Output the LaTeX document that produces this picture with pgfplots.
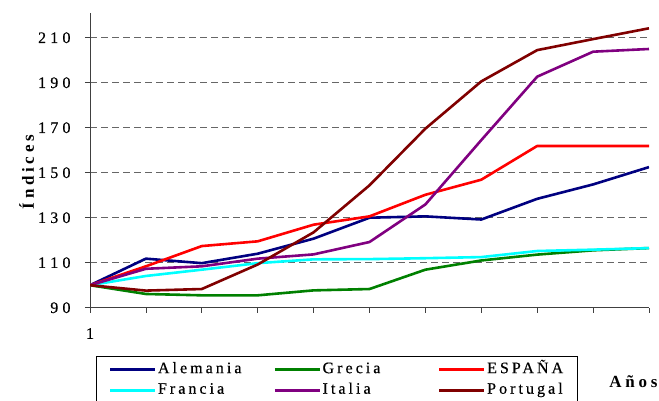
\documentclass[border=0pt]{standalone}
\usepackage{fontspec}
\setmainfont{Liberation Serif}
\usepackage{pgfplots}
\pgfplotsset{compat=1.18}
\newfontfamily\tickfam[FakeBold=0.4]{Liberation Serif}
\newfontfamily\spacedleg[LetterSpace=19,FakeBold=0.4]{Liberation Serif}
\newfontfamily\spacedlab[LetterSpace=22]{Liberation Serif}
\newcommand\tickfont{\fontsize{16bp}{19bp}\selectfont\tickfam}
\newcommand\ks{\hspace{4.2bp}}
\newcommand\tl[1]{\mbox{\tickfont #1}}
\newcommand\legfont{\fontsize{16bp}{19bp}\selectfont\spacedleg}
\newcommand\labfont{\fontsize{17bp}{20bp}\selectfont\spacedlab\bfseries}
\definecolor{cNavy}{HTML}{000080}
\definecolor{cGreen}{HTML}{008000}
\definecolor{cRed}{HTML}{FF0000}
\definecolor{cCyan}{HTML}{00FFFF}
\definecolor{cPurple}{HTML}{800080}
\definecolor{cMaroon}{HTML}{800000}
\begin{document}
\begin{tikzpicture}
\useasboundingbox (0,0) rectangle (659bp,401bp);
\begin{axis}[
  at={(90bp,93.3bp)}, anchor=south west,
  scale only axis, width=559bp, height=294.7bp,
  xmin=1, xmax=11, ymin=90, ymax=221,
  axis x line*=bottom, axis y line*=left,
  axis line style={-, line width=0.8bp, draw=black!75},
  xtick={1,...,11}, xticklabels={\tl{1}},
  ytick={90,110,...,210},
  yticklabels={\tl{9\ks0},\tl{1\ks1\ks0},\tl{1\ks3\ks0},\tl{1\ks5\ks0},\tl{1\ks7\ks0},\tl{1\ks9\ks0},\tl{2\ks1\ks0}},
  tick style={line width=0.8bp, draw=black!75},
  xtick align=outside, ytick align=outside,
  major tick length=5bp,
  ymajorgrids,
  grid style={line width=0.8bp, draw=black!60, dash pattern=on 7bp off 4bp},
  ticklabel style={font=\tickfont},
  xticklabel style={yshift=-12bp},
  yticklabel style={xshift=-11bp},
  ylabel={Índices},
  ylabel style={font=\labfont, at={(axis description cs:-0.1135,0.46)}, anchor=center},
  xlabel={Años},
  xlabel style={font=\labfont, at={(axis description cs:0.972,-0.252)}, anchor=center},
  legend columns=3,
  legend style={at={(axis description cs:0.0107,-0.163)}, anchor=north west,
    draw=black, line width=0.8bp, inner xsep=12.5bp, inner ysep=3.2bp,
    font=\legfont, row sep=0bp,
    nodes={inner xsep=1.5bp, inner ysep=2.8bp, text height=11bp, text depth=4bp},
    /tikz/every even column/.append style={column sep=0bp}},
  legend cell align=left,
  legend image code/.code={\draw[#1] (0bp,0bp) -- (45bp,0bp);},
  every axis plot/.append style={line width=2.6bp, line join=round},
]
\addplot[cNavy] coordinates {(1,100) (2,111.8) (3,109.8) (4,114.0) (5,120.7) (6,130.0) (7,130.6) (8,129.2) (9,138.4) (10,144.8) (11,152.5)};
\addlegendentry{\makebox[114bp][l]{Alemania}}
\addplot[cGreen] coordinates {(1,100) (2,96.1) (3,95.5) (4,95.5) (5,97.7) (6,98.3) (7,106.9) (8,111.0) (9,113.6) (10,115.5) (11,116.5)};
\addlegendentry{\makebox[114bp][l]{Grecia}}
\addplot[cRed] coordinates {(1,100) (2,108.4) (3,117.4) (4,119.5) (5,126.9) (6,130.6) (7,140.2) (8,146.9) (9,161.9) (10,161.9) (11,161.9)};
\addlegendentry{ESPAÑA}
\addplot[cCyan] coordinates {(1,100) (2,104.1) (3,106.9) (4,109.8) (5,111.5) (6,111.6) (7,112.0) (8,112.5) (9,115.2) (10,115.8) (11,116.5)};
\addlegendentry{\makebox[114bp][l]{Francia}}
\addplot[cPurple] coordinates {(1,100) (2,107.3) (3,108.4) (4,111.8) (5,113.7) (6,119.2) (7,135.9) (8,164.5) (9,192.7) (10,203.8) (11,205.0)};
\addlegendentry{\makebox[114bp][l]{Italia}}
\addplot[cMaroon] coordinates {(1,100) (2,97.6) (3,98.3) (4,109.2) (5,123.5) (6,144.4) (7,169.6) (8,190.6) (9,204.5) (10,209.4) (11,214.2)};
\addlegendentry{Portugal}
\end{axis}
\end{tikzpicture}
\end{document}
